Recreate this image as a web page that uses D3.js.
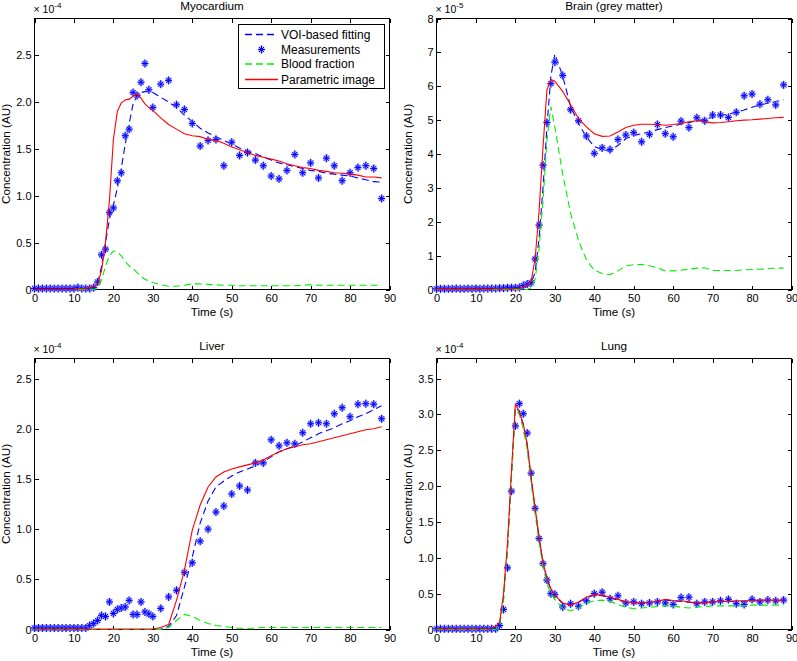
<!DOCTYPE html>
<html>
<head>
<meta charset="utf-8">
<script src="https://cdn.jsdelivr.net/npm/d3@7"></script>
<style>
  body { margin: 0; background: #fff; }
  svg { display: block; font-family: "Liberation Sans", Arial, sans-serif; }
</style>
</head>
<body>
<div id="chart"></div>
<script>
// sampling times (s): 1 s steps up to 30 s, then 2 s steps
let times = [0, 1, 2, 3, 4, 5, 6, 7, 8, 9, 10, 11, 12, 13, 14, 15, 16, 17, 18, 19, 20,
  21, 22, 23, 24, 25, 26, 27, 28, 29, 30, 32, 34, 36, 38, 40, 42, 44, 46, 48, 50,
  52, 54, 56, 58, 60, 62, 64, 66, 68, 70, 72, 74, 76, 78, 80, 82, 84, 86, 88];

let xTicks = [0, 10, 20, 30, 40, 50, 60, 70, 80, 90];

// Myocardium (x 1e-4)
let myoMeas = [0.01, 0.01, 0.01, 0.01, 0.01, 0.01, 0.01, 0.01, 0.01, 0.01, 0.01, 0.02, 0.01, 0.01, 0.01, 0.02,
  0.08, 0.37, 0.43, 0.82, 0.87, 1.16, 1.245, 1.64, 1.71, 2.10, 2.07, 2.21, 2.41, 2.13, 1.94,
  2.19, 2.23, 1.97, 1.92, 1.77, 1.53, 1.59, 1.60, 1.32, 1.57, 1.43, 1.46, 1.38, 1.32, 1.21,
  1.18, 1.27, 1.44, 1.245, 1.35, 1.19, 1.40, 1.32, 1.16, 1.245, 1.30, 1.32, 1.29, 0.97];
let myoFit = [0, 0, 0, 0, 0, 0, 0, 0, 0, 0, 0, 0, 0, 0, 0, 0.01,
  0.06, 0.25, 0.5, 0.75, 0.9, 1.08, 1.29, 1.55, 1.77, 1.98, 2.07, 2.10, 2.11, 2.12, 2.10,
  2.05, 2.00, 1.94, 1.86, 1.79, 1.72, 1.67, 1.63, 1.59, 1.55, 1.51, 1.48, 1.45, 1.41, 1.38,
  1.35, 1.33, 1.31, 1.29, 1.27, 1.26, 1.24, 1.23, 1.22, 1.21, 1.19, 1.17, 1.15, 1.145];
let myoBlood = [0, 0, 0, 0, 0, 0, 0, 0, 0, 0, 0, 0, 0, 0, 0, 0,
  0.02, 0.1, 0.25, 0.36, 0.41, 0.40, 0.36, 0.30, 0.25, 0.22, 0.18, 0.14, 0.11, 0.09, 0.075,
  0.05, 0.035, 0.035, 0.045, 0.06, 0.06, 0.055, 0.05, 0.045, 0.045, 0.04, 0.04, 0.04, 0.04, 0.04,
  0.04, 0.04, 0.04, 0.045, 0.05, 0.045, 0.045, 0.045, 0.045, 0.045, 0.045, 0.045, 0.045, 0.045];
let myoParam = [0, 0, 0, 0, 0, 0, 0, 0, 0, 0, 0, 0.01, 0.01, 0.01, 0.02, 0.03,
  0.06, 0.2, 0.5, 0.95, 1.6, 1.9, 1.99, 2.02, 2.03, 2.06, 2.085, 2.04, 1.98, 1.94, 1.91,
  1.83, 1.76, 1.71, 1.66, 1.64, 1.63, 1.60, 1.59, 1.56, 1.52, 1.49, 1.46, 1.43, 1.41, 1.39,
  1.37, 1.34, 1.32, 1.30, 1.29, 1.27, 1.26, 1.245, 1.24, 1.23, 1.22, 1.20, 1.20, 1.19];

// Brain, grey matter (x 1e-5)
let brainMeas = [0.02, 0.02, 0.02, 0.02, 0.02, 0.03, 0.02, 0.02, 0.03, 0.02, 0.03, 0.02, 0.03, 0.03, 0.03, 0.03,
  0.04, 0.04, 0.05, 0.05, 0.05, 0.06, 0.12, 0.16, 0.2, 0.9, 1.9, 3.67, 4.93, 6.08, 6.71,
  6.32, 5.31, 4.98, 4.53, 4.02, 4.18, 4.13, 4.43, 4.56, 4.63, 4.36, 4.58, 4.87, 4.60, 4.51,
  4.97, 4.78, 5.07, 4.98, 5.15, 5.15, 5.08, 5.23, 5.72, 5.77, 5.47, 5.60, 5.45, 6.04];
let brainFit = [0.02, 0.02, 0.02, 0.02, 0.02, 0.02, 0.02, 0.02, 0.02, 0.02, 0.02, 0.02, 0.02, 0.02, 0.02, 0.02,
  0.02, 0.02, 0.02, 0.02, 0.02, 0.02, 0.05, 0.1, 0.2, 0.5, 1.5, 3.0, 4.8, 6.3, 6.95,
  6.3, 5.4, 4.9, 4.5, 4.22, 4.12, 4.10, 4.25, 4.45, 4.55, 4.60, 4.65, 4.72, 4.78, 4.83,
  4.88, 4.93, 4.98, 5.03, 5.08, 5.13, 5.18, 5.23, 5.30, 5.38, 5.45, 5.50, 5.55, 5.60];
let brainBlood = [0, 0, 0, 0, 0, 0, 0, 0, 0, 0, 0, 0, 0, 0, 0, 0,
  0, 0, 0, 0, 0, 0, 0, 0, 0.05, 0.3, 1.2, 2.6, 4.4, 5.4, 4.8,
  3.4, 2.25, 1.45, 0.87, 0.57, 0.47, 0.44, 0.55, 0.70, 0.73, 0.74, 0.70, 0.64, 0.55, 0.55,
  0.57, 0.60, 0.63, 0.64, 0.56, 0.56, 0.56, 0.56, 0.58, 0.59, 0.60, 0.62, 0.63, 0.63];
let brainParam = [0.01, 0.01, 0.01, 0.01, 0.01, 0.01, 0.01, 0.01, 0.01, 0.01, 0.01, 0.01, 0.01, 0.01, 0.01, 0.02,
  0.02, 0.02, 0.02, 0.03, 0.03, 0.04, 0.06, 0.12, 0.25, 0.9, 2.3, 4.2, 5.9, 6.2, 6.15,
  5.85, 5.45, 5.05, 4.80, 4.60, 4.52, 4.53, 4.65, 4.78, 4.85, 4.88, 4.88, 4.87, 4.85, 4.87,
  4.90, 4.95, 4.98, 4.95, 4.92, 4.93, 4.95, 4.98, 5.00, 5.01, 5.03, 5.05, 5.07, 5.08];

// Liver (x 1e-4)
let liverMeas = [0.015, 0.015, 0.015, 0.015, 0.015, 0.015, 0.015, 0.015, 0.015, 0.015, 0.015, 0.015, 0.015, 0.015,
  0.04, 0.06, 0.09, 0.14, 0.13, 0.275, 0.16, 0.2, 0.215, 0.225, 0.29, 0.15, 0.15, 0.275, 0.175, 0.155, 0.13,
  0.21, 0.325, 0.39, 0.57, 0.665, 0.88, 1.0, 1.17, 1.23, 1.35, 1.43, 1.39, 1.66, 1.66, 1.89,
  1.83, 1.86, 1.85, 1.96, 2.05, 2.06, 2.05, 2.15, 2.21, 2.12, 2.245, 2.25, 2.245, 2.10];
let liverFit = [0, 0, 0, 0, 0, 0, 0, 0, 0, 0, 0, 0, 0, 0, 0, 0,
  0, 0, 0, 0, 0, 0, 0, 0, 0, 0, 0, 0, 0, 0, 0,
  0.005, 0.03, 0.14, 0.42, 0.72, 1.06, 1.28, 1.42, 1.48, 1.53, 1.57, 1.60, 1.63, 1.67, 1.72,
  1.77, 1.80, 1.83, 1.87, 1.91, 1.95, 1.98, 2.01, 2.05, 2.08, 2.12, 2.15, 2.19, 2.23];
let liverBlood = [0, 0, 0, 0, 0, 0, 0, 0, 0, 0, 0, 0, 0, 0, 0, 0,
  0, 0, 0, 0, 0, 0, 0, 0, 0, 0, 0, 0, 0, 0, 0,
  0, 0.02, 0.09, 0.15, 0.13, 0.09, 0.06, 0.04, 0.03, 0.02, 0.012, 0.01, 0.015, 0.02, 0.02,
  0.02, 0.02, 0.02, 0.02, 0.02, 0.02, 0.02, 0.02, 0.02, 0.02, 0.02, 0.02, 0.02, 0.02];
let liverParam = [0.005, 0.005, 0.005, 0.005, 0.005, 0.005, 0.005, 0.005, 0.005, 0.005, 0.005, 0.005, 0.005, 0.005, 0.005, 0.005,
  0.005, 0.005, 0.005, 0.005, 0.005, 0.005, 0.005, 0.005, 0.005, 0.005, 0.005, 0.005, 0.005, 0.005, 0.005,
  0.02, 0.05, 0.29, 0.59, 0.99, 1.24, 1.42, 1.52, 1.57, 1.60, 1.62, 1.64, 1.66, 1.69, 1.73,
  1.77, 1.80, 1.82, 1.84, 1.85, 1.87, 1.89, 1.91, 1.93, 1.95, 1.97, 1.99, 2.00, 2.02];

// Lung (x 1e-4)
let lungMeas = [0.01, 0.01, 0.01, 0.01, 0.01, 0.01, 0.01, 0.01, 0.01, 0.01, 0.01, 0.01, 0.01, 0.01, 0.01, 0.01,
  0.056, 0.28, 0.86, 1.93, 2.84, 3.15, 3.01, 2.74, 2.18, 1.69, 1.27, 0.92, 0.69, 0.50, 0.49,
  0.315, 0.36, 0.325, 0.40, 0.50, 0.52, 0.43, 0.47, 0.37, 0.385, 0.36, 0.37, 0.385, 0.37, 0.35,
  0.445, 0.45, 0.36, 0.385, 0.385, 0.40, 0.42, 0.36, 0.35, 0.42, 0.385, 0.41, 0.40, 0.41];
let lungFit = [0, 0, 0, 0, 0, 0, 0, 0, 0, 0, 0, 0, 0, 0, 0, 0,
  0.06, 0.45, 1.15, 2.15, 3.10, 3.05, 2.85, 2.58, 2.10, 1.68, 1.28, 0.93, 0.70, 0.56, 0.47,
  0.36, 0.34, 0.38, 0.44, 0.48, 0.47, 0.44, 0.41, 0.38, 0.37, 0.37, 0.38, 0.39, 0.41, 0.40,
  0.39, 0.38, 0.37, 0.37, 0.38, 0.39, 0.39, 0.39, 0.39, 0.40, 0.40, 0.40, 0.40, 0.40];
let lungBlood = [0, 0, 0, 0, 0, 0, 0, 0, 0, 0, 0, 0, 0, 0, 0, 0,
  0.05, 0.4, 1.1, 2.1, 3.08, 3.0, 2.8, 2.5, 2.05, 1.62, 1.22, 0.88, 0.64, 0.50, 0.42,
  0.30, 0.26, 0.30, 0.37, 0.40, 0.41, 0.39, 0.35, 0.31, 0.29, 0.30, 0.31, 0.32, 0.33, 0.33,
  0.31, 0.30, 0.31, 0.32, 0.33, 0.33, 0.33, 0.33, 0.33, 0.34, 0.34, 0.34, 0.34, 0.34];
let lungParam = [0.01, 0.01, 0.01, 0.01, 0.01, 0.01, 0.01, 0.01, 0.01, 0.01, 0.01, 0.01, 0.01, 0.01, 0.02, 0.04,
  0.1, 0.5, 1.2, 2.2, 3.15, 3.03, 2.87, 2.59, 2.12, 1.70, 1.29, 0.94, 0.71, 0.57, 0.48,
  0.37, 0.34, 0.385, 0.45, 0.49, 0.48, 0.45, 0.42, 0.385, 0.375, 0.37, 0.38, 0.395, 0.42, 0.405,
  0.40, 0.385, 0.37, 0.375, 0.385, 0.39, 0.395, 0.40, 0.40, 0.405, 0.41, 0.41, 0.41, 0.41];

let legendLabels = ["VOI-based fitting", "Measurements", "Blood fraction", "Parametric image"];

let width = 797, height = 661;
let cols = [[34.5, 389.5], [436.5, 791.5]];
let rows = [[18.5, 289.5], [358.5, 629.5]];

let panels = [
  { title: "Myocardium", exp: "-4", ymax: 2.89, yticks: [0, 0.5, 1, 1.5, 2, 2.5], fmt: d => d === 0 ? "0" : d3.format(".1f")(d),
    meas: myoMeas, fit: myoFit, blood: myoBlood, param: myoParam, c: 0, r: 0, legend: true },
  { title: "Brain (grey matter)", exp: "-5", ymax: 8, yticks: [0, 1, 2, 3, 4, 5, 6, 7, 8], fmt: d3.format("d"),
    meas: brainMeas, fit: brainFit, blood: brainBlood, param: brainParam, c: 1, r: 0 },
  { title: "Liver", exp: "-4", ymax: 2.7, yticks: [0, 0.5, 1, 1.5, 2, 2.5], fmt: d => d === 0 ? "0" : d3.format(".1f")(d),
    meas: liverMeas, fit: liverFit, blood: liverBlood, param: liverParam, c: 0, r: 1 },
  { title: "Lung", exp: "-4", ymax: 3.78, yticks: [0, 0.5, 1, 1.5, 2, 2.5, 3, 3.5], fmt: d => d === 0 ? "0" : d3.format(".1f")(d),
    meas: lungMeas, fit: lungFit, blood: lungBlood, param: lungParam, c: 1, r: 1 }
];

let blue = "#0000ff", green = "#00f000", red = "#ff0000";

let svg = d3.select("#chart").append("svg")
  .attr("width", width)
  .attr("height", height);

// MATLAB style '*' marker
function star(g, cx, cy) {
  let p = `M${cx - 3.5},${cy}H${cx + 3.5}M${cx},${cy - 4}V${cy + 4}` +
    `M${cx - 2.5},${cy - 2.5}L${cx + 2.5},${cy + 2.5}M${cx - 2.5},${cy + 2.5}L${cx + 2.5},${cy - 2.5}`;
  g.append("path").attr("d", p).attr("stroke", "#8c8cff").attr("stroke-width", 2.2).attr("fill", "none").attr("opacity", 0.7);
  g.append("path").attr("d", p).attr("stroke", blue).attr("stroke-width", 1).attr("fill", "none");
}

panels.forEach(p => {
  let [x0, x1] = cols[p.c];
  let [yTop, yBot] = rows[p.r];

  let x = d3.scaleLinear().domain([0, 90]).range([x0, x1]);
  let y = d3.scaleLinear().domain([0, p.ymax]).range([yBot, yTop]);

  let g = svg.append("g");

  // axes with inward ticks on all four sides
  let styleAxis = a => {
    a.select(".domain").remove();
    a.selectAll("line").attr("stroke", "#000").attr("shape-rendering", "crispEdges");
    a.selectAll("text").attr("font-size", 11).attr("fill", "#000")
      .attr("font-family", "'Liberation Sans', Arial, sans-serif");
  };

  g.append("g")
    .attr("transform", `translate(0,${yBot})`)
    .call(d3.axisBottom(x).tickValues(xTicks).tickSizeInner(-4).tickSizeOuter(0).tickPadding(5).tickFormat(d3.format("d")))
    .call(styleAxis);
  g.append("g")
    .attr("transform", `translate(0,${yTop})`)
    .call(d3.axisTop(x).tickValues(xTicks).tickSizeInner(-4).tickSizeOuter(0).tickFormat(""))
    .call(styleAxis);
  g.append("g")
    .attr("transform", `translate(${x0},0)`)
    .call(d3.axisLeft(y).tickValues(p.yticks).tickSizeInner(-4).tickSizeOuter(0).tickPadding(3).tickFormat(p.fmt))
    .call(styleAxis);
  g.append("g")
    .attr("transform", `translate(${x1},0)`)
    .call(d3.axisRight(y).tickValues(p.yticks).tickSizeInner(-4).tickSizeOuter(0).tickFormat(""))
    .call(styleAxis);

  g.append("rect")
    .attr("x", x0).attr("y", yTop)
    .attr("width", x1 - x0).attr("height", yBot - yTop)
    .attr("fill", "none").attr("stroke", "#000").attr("shape-rendering", "crispEdges");

  let line = vals => d3.line()
    .x((d, i) => x(times[i]))
    .y(d => y(d))(vals);

  g.append("path").attr("d", line(p.fit))
    .attr("fill", "none").attr("stroke", blue).attr("stroke-width", 1.1).attr("stroke-dasharray", "7,4");

  let mg = g.append("g");
  p.meas.forEach((v, i) => star(mg, x(times[i]), y(v)));

  g.append("path").attr("d", line(p.blood))
    .attr("fill", "none").attr("stroke", green).attr("stroke-width", 1.1).attr("stroke-dasharray", "7,4");

  g.append("path").attr("d", line(p.param))
    .attr("fill", "none").attr("stroke", red).attr("stroke-width", 1.1);

  // title, axis labels, exponent
  g.append("text")
    .attr("x", (x0 + x1) / 2).attr("y", yTop - 8.5)
    .attr("text-anchor", "middle").attr("font-size", 11.7)
    .text(p.title);

  g.append("text")
    .attr("x", (x0 + x1) / 2).attr("y", yBot + 26)
    .attr("text-anchor", "middle").attr("font-size", 11.7)
    .text("Time (s)");

  g.append("text")
    .attr("transform", `translate(${x0 - 25},${(yTop + yBot) / 2}) rotate(-90)`)
    .attr("text-anchor", "middle").attr("font-size", 11.7)
    .text("Concentration (AU)");

  let e = g.append("text")
    .attr("x", x0 - 1).attr("y", yTop - 5.5)
    .attr("font-size", 10.5);
  e.append("tspan").text("\u00d7 10");
  e.append("tspan").attr("dy", -5).attr("font-size", 8).text(p.exp);

  if (p.legend) {
    let lg = g.append("g");
    lg.append("rect")
      .attr("x", 238.5).attr("y", 24.5).attr("width", 145.5).attr("height", 64)
      .attr("fill", "#fff").attr("stroke", "#000").attr("shape-rendering", "crispEdges");
    let rowsY = [34.5, 49.5, 64, 79.5];
    let styles = [
      { stroke: blue, dash: "7,4" },
      null,
      { stroke: green, dash: "7,4" },
      { stroke: red, dash: null }
    ];
    legendLabels.forEach((lab, i) => {
      let ly = rowsY[i];
      if (styles[i]) {
        lg.append("line")
          .attr("x1", 245).attr("x2", 278).attr("y1", ly).attr("y2", ly)
          .attr("stroke", styles[i].stroke).attr("stroke-width", 1.4)
          .attr("stroke-dasharray", styles[i].dash);
      } else {
        star(lg, 261.5, ly);
      }
      lg.append("text")
        .attr("x", 281).attr("y", ly + 4)
        .attr("font-size", 12)
        .text(lab);
    });
  }
});
</script>
</body>
</html>
